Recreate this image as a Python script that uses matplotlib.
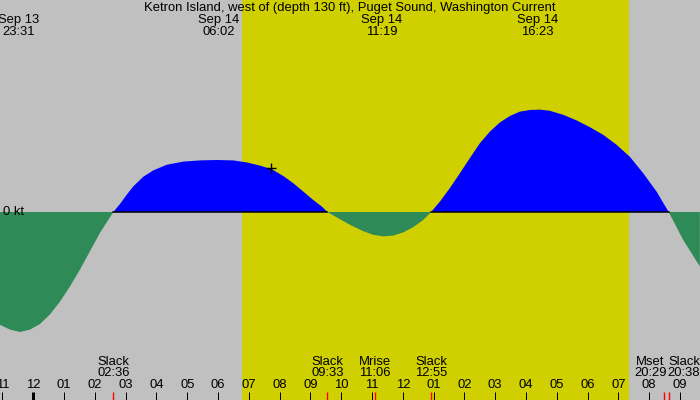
import numpy as np
import matplotlib
matplotlib.use("Agg")
import matplotlib.pyplot as plt
import matplotlib.transforms as mtransforms

plt.rcParams['font.family'] = ['Liberation Sans', 'DejaVu Sans']

# ---------------- data ----------------
title = "Ketron Island, west of (depth 130 ft), Puget Sound, Washington Current"

# current speed samples (hours from midnight Sep 14, knots)
hours = [-1.081, -0.757, -0.432, -0.107, 0.218, 0.542, 0.867, 1.192, 1.516, 1.841,
         2.166, 2.383, 2.600, 2.815, 3.032, 3.247, 3.571, 3.896, 4.331, 4.870,
         5.412, 5.955, 6.494, 6.929, 7.360, 7.740, 8.120, 8.442, 8.766, 9.091,
         9.364, 9.550, 9.958, 10.282, 10.714, 11.039, 11.364, 11.688, 12.013, 12.338,
         12.662, 12.917, 13.205, 13.529, 13.854, 14.179, 14.503, 14.828, 15.153, 15.477,
         15.802, 16.127, 16.451, 16.776, 17.208, 17.643, 18.075, 18.506, 18.942, 19.373,
         19.805, 20.240, 20.633, 21.104, 21.646]
speed = [-1.41, -1.47, -1.50, -1.47, -1.40, -1.28, -1.12, -0.93, -0.72, -0.49,
         -0.26, -0.13, 0.00, 0.10, 0.215, 0.32, 0.44, 0.52, 0.59, 0.63,
         0.645, 0.65, 0.645, 0.62, 0.58, 0.535, 0.45, 0.36, 0.256, 0.15,
         0.07, 0.00, -0.09, -0.16, -0.24, -0.285, -0.305, -0.295, -0.255, -0.19,
         -0.10, 0.00, 0.13, 0.30, 0.485, 0.675, 0.86, 1.005, 1.12, 1.20,
         1.255, 1.275, 1.28, 1.265, 1.215, 1.145, 1.06, 0.965, 0.84, 0.69,
         0.485, 0.255, 0.00, -0.35, -0.68]

# max flood / max ebb events shown at the top
peak_hours = [-0.48, 6.03, 11.32, 16.38]
peak_dates = ["Sep 13", "Sep 14", "Sep 14", "Sep 14"]
peak_times = ["23:31", "06:02", "11:19", "16:23"]

# events shown at the bottom
event_hours = [2.60, 9.55, 11.10, 12.92, 20.48, 20.63]
event_names = ["Slack", "Slack", "Mrise", "Slack", "Mset", "Slack"]
event_times = ["02:36", "09:33", "11:06", "12:55", "20:29", "20:38"]

# hour tick labels
tick_hours = list(range(-1, 22))
tick_labels = ["11", "12", "01", "02", "03", "04", "05", "06", "07", "08", "09", "10",
               "11", "12", "01", "02", "03", "04", "05", "06", "07", "08", "09"]

sunrise, sunset = 6.77, 19.35
now_hour, now_speed = 7.73, 0.55

# ---------------- plot ----------------
BG = "#c0c0c0"
DAY = "#d0d000"
FLOOD = "#0000ff"
EBB = "#2e8b57"

fig = plt.figure(figsize=(7, 4), dpi=100)
fig.patch.set_facecolor(BG)
ax = fig.add_axes([0, 0, 1, 1])
ax.set_facecolor(BG)
ax.set_xlim(-1.081, 21.65)
ax.set_ylim(-2.35, 2.65)
ax.axis('off')

ax.axvspan(sunrise, sunset, color=DAY, lw=0, zorder=0)

t = np.array(hours)
v = np.array(speed)
ax.fill_between(t, v, 0, where=v >= 0, interpolate=True, color=FLOOD, lw=0, zorder=2)
ax.fill_between(t, v, 0, where=v <= 0, interpolate=True, color=EBB, lw=0, zorder=2)
ax.plot(t, np.where(v >= 0, 0.0, np.nan), color="black", lw=1.1, zorder=3)

ax.plot([now_hour], [now_speed], marker='+', color='black', ms=7, mew=1, zorder=4)

FS = 9.35
ax.text(0.004, 0.0, "0 kt", ha='left', va='center', fontsize=FS,
        transform=mtransforms.blended_transform_factory(ax.transAxes, ax.transData), zorder=5)

bt = mtransforms.blended_transform_factory(ax.transData, ax.transAxes)

ax.text(0.5, 1 - 7.5 / 400, title, ha='center', va='center', fontsize=FS, transform=ax.transAxes)
for h, d, tm in zip(peak_hours, peak_dates, peak_times):
    ax.text(h, 1 - 20 / 400, d, ha='center', va='center', fontsize=FS, transform=bt)
    ax.text(h, 1 - 31.7 / 400, tm, ha='center', va='center', fontsize=FS, transform=bt)

offsets = [0, 0, 0, 0, -13.6, 15.5]
for h, n, tm, off in zip(event_hours, event_names, event_times, offsets):
    tr = bt + mtransforms.ScaledTranslation(off / 100, 0, fig.dpi_scale_trans)
    ax.text(h, 1 - 361.7 / 400, n, ha='center', va='center', fontsize=FS, transform=tr)
    ax.text(h, 1 - 373.3 / 400, tm, ha='center', va='center', fontsize=FS, transform=tr)
    ax.vlines(h, 0, 8 / 400, color='red', lw=1, transform=bt, zorder=5)

for h, lab in zip(tick_hours, tick_labels):
    ax.text(h, 1 - 385.5 / 400, lab, ha='center', va='center', fontsize=FS, transform=bt)
    lw = 3 if h == 0 else 1
    ax.vlines(h, 0, 8 / 400, color='black', lw=lw * 0.72, transform=bt, zorder=5)

fig.savefig("out.png", dpi=100, facecolor=BG)
